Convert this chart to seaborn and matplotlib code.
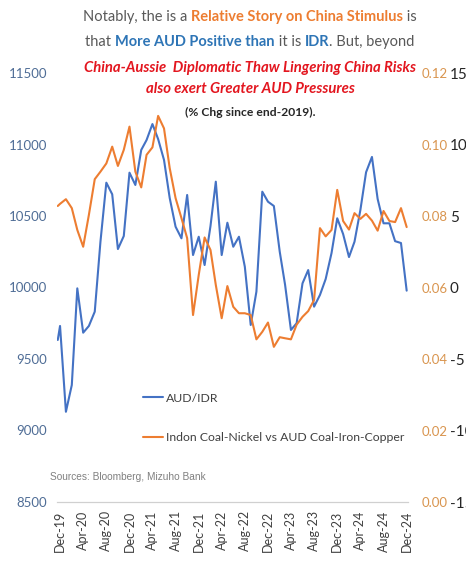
import matplotlib
matplotlib.use("Agg")
import matplotlib.pyplot as plt
import matplotlib.dates as mdates
from matplotlib import font_manager
import numpy as np
import pandas as pd
import seaborn as sns

# ---- data -------------------------------------------------------------
dates = [pd.Timestamp("2019-11-19")] + list(pd.date_range("2019-12-01", "2024-12-01", freq="MS"))

aud_idr = [
    9633, 9731, 9131, 9318, 9994, 9684, 9731, 9831, 10320, 10733,
    10652, 10269, 10360, 10803, 10717, 10962, 11031, 11143, 11038, 10892,
    10626, 10425, 10344, 10647, 10227, 10355, 10157, 10430, 10740, 10227,
    10453, 10285, 10355, 10145, 9738, 9971, 10670, 10600, 10570, 10250,
    10020, 9703, 9750, 10029, 10122, 9866, 9948, 10059, 10241, 10484,
    10374, 10213, 10320, 10542, 10806, 10913, 10619, 10449, 10449, 10324,
    10311, 9978,
]

coal_ratio = [
    0.0828, 0.0834, 0.0847, 0.0822, 0.0761, 0.0714, 0.0803, 0.0903, 0.0924, 0.0947,
    0.0994, 0.0940, 0.0985, 0.1050, 0.0924, 0.0880, 0.0971, 0.0992, 0.1080, 0.1045,
    0.0934, 0.0850, 0.0794, 0.0738, 0.0523, 0.0635, 0.0740, 0.0705, 0.0607, 0.0514,
    0.0604, 0.0546, 0.0528, 0.0528, 0.0523, 0.0455, 0.0476, 0.0502, 0.0434, 0.0461,
    0.0458, 0.0455, 0.0496, 0.0518, 0.0534, 0.0565, 0.0766, 0.0743, 0.0761, 0.0873,
    0.0786, 0.0762, 0.0808, 0.0792, 0.0806, 0.0787, 0.0759, 0.0814, 0.0786, 0.0783,
    0.0822, 0.0769,
]

left_ticks = [8500, 9000, 9500, 10000, 10500, 11000, 11500]
right_ticks = [0.00, 0.02, 0.04, 0.06, 0.08, 0.10, 0.12]
pct_ticks = [-15, -10, -5, 0, 5, 10, 15]
x_ticks = list(pd.date_range("2019-12-01", "2024-12-01", freq="4MS"))

series_names = ["AUD/IDR", "Indon Coal-Nickel vs AUD Coal-Iron-Copper"]

df = pd.DataFrame({"date": dates, "aud_idr": aud_idr, "coal": coal_ratio})

# ---- styling ----------------------------------------------------------
sns.set_theme(style="white")
plt.rcParams["font.family"] = ["Lato", "DejaVu Sans"]

BLUE = "#4472C4"
ORANGE = "#ED7D31"
BLUE_LBL = "#4F6D96"
ORANGE_LBL = "#D9954F"
GREY_TXT = "#595959"
RED = "#E3161F"

W, H = 466, 562
PX = 72 / 100  # points per pixel at 100 dpi
fig = plt.figure(figsize=(W / 100, H / 100), dpi=100)
ax = fig.add_axes([57 / W, 1 - 502 / H, 351 / W, (502 - 73) / H])

sns.lineplot(data=df, x="date", y="aud_idr", ax=ax, color=BLUE, lw=1.5, label=series_names[0], legend=False)
ax2 = ax.twinx()
sns.lineplot(data=df, x="date", y="coal", ax=ax2, color=ORANGE, lw=1.5, label=series_names[1], legend=False)

# third percentage scale on the far right (runs off the canvas edge)
ax3 = ax.twinx()
ax3.set_ylim(-15, 15)
ax3.set_yticks(pct_ticks)
ax3.set_yticklabels([str(v) for v in pct_ticks], fontsize=9.5)
for lbl, v in zip(ax3.get_yticklabels(), pct_ticks):
    lbl.set_color("#E0301E" if v < 0 else GREY_TXT)
ax3.spines["right"].set_position(("outward", 40 * PX))
ax3.tick_params(axis="y", length=0, pad=2 * PX)

ax.set_ylim(8500, 11500)
ax.set_yticks(left_ticks)
ax.set_yticklabels([str(v) for v in left_ticks], fontsize=9.5, color=BLUE_LBL)
ax.tick_params(axis="y", length=0, pad=7)

ax2.set_ylim(0, 0.12)
ax2.set_yticks(right_ticks)
ax2.set_yticklabels([f"{v:.2f}" for v in right_ticks], fontsize=9.5, color=ORANGE_LBL)
ax2.tick_params(axis="y", length=0, pad=10)

ax.set_xlim(pd.Timestamp("2019-11-15"), pd.Timestamp("2024-12-08"))
ax.set_xticks(x_ticks)
ax.xaxis.set_major_formatter(mdates.DateFormatter("%b-%y"))
ax.tick_params(axis="x", rotation=90, labelsize=9, colors="#404040", length=4, width=0.8, pad=2)
ax.tick_params(axis="x", color="#C8C8C8")

for a in (ax, ax2, ax3):
    for side in ("top", "left", "right"):
        a.spines[side].set_visible(False)
    a.set_xlabel("")
    a.set_ylabel("")
    a.grid(False)
for a in (ax2, ax3):
    a.spines["bottom"].set_visible(False)
ax.spines["bottom"].set_color("#D0D0D0")
ax.spines["bottom"].set_linewidth(0.9)

# legend
h1, l1 = ax.get_legend_handles_labels()
h2, l2 = ax2.get_legend_handles_labels()
leg = ax2.legend(h1 + h2, l1 + l2, loc="center left", bbox_to_anchor=(143 / W, 1 - 418 / H),
                 bbox_transform=fig.transFigure, frameon=False, fontsize=8.8,
                 handlelength=1.6, handletextpad=0.25, labelspacing=2.35,
                 borderpad=0, borderaxespad=0)
for t in leg.get_texts():
    t.set_color("#404040")

# source note in a narrow face when one is available
installed = {f.name for f in font_manager.fontManager.ttflist}
if "Liberation Sans Narrow" in installed:
    src_family, src_size = "Liberation Sans Narrow", 8.6
else:
    src_family, src_size = "Liberation Sans", 7.3
fig.text(50 / W, 1 - 477 / H, "Sources: Bloomberg, Mizuho Bank", fontsize=src_size,
         color="#808080", family=[src_family, "DejaVu Sans"], va="center", ha="left")

# ---- multi-coloured heading -------------------------------------------
renderer = fig.canvas.get_renderer()


def heading_line(y_px, parts, size, cx_px=250):
    items = []
    for txt, col, weight, style in parts:
        t = fig.text(0, 1 - y_px / H, txt, fontsize=size, color=col, fontweight=weight,
                     fontstyle=style, va="center", ha="left")
        items.append(t)
    widths = [t.get_window_extent(renderer).width for t in items]
    x = cx_px - sum(widths) / 2
    for t, w in zip(items, widths):
        t.set_x(x / W)
        x += w


heading_line(17, [("Notably, the is a ", GREY_TXT, "normal", "normal"),
                  ("Relative Story on China Stimulus", ORANGE, "bold", "normal"),
                  (" is", GREY_TXT, "normal", "normal")], 10.5)
heading_line(42, [("that ", GREY_TXT, "normal", "normal"),
                  ("More AUD Positive than", "#2E75B6", "bold", "normal"),
                  (" it is ", GREY_TXT, "normal", "normal"),
                  ("IDR", "#2E75B6", "bold", "normal"),
                  (". But, beyond", GREY_TXT, "normal", "normal")], 10.5)
heading_line(68, [("China-Aussie  Diplomatic Thaw Lingering China Risks", RED, "bold", "italic")], 10.7)
heading_line(89, [("also exert Greater AUD Pressures", RED, "bold", "italic")], 10.7)
heading_line(112, [("(% Chg since end-2019).", "#262626", "bold", "normal")], 8.7)

fig.savefig("out.png", dpi=100)
